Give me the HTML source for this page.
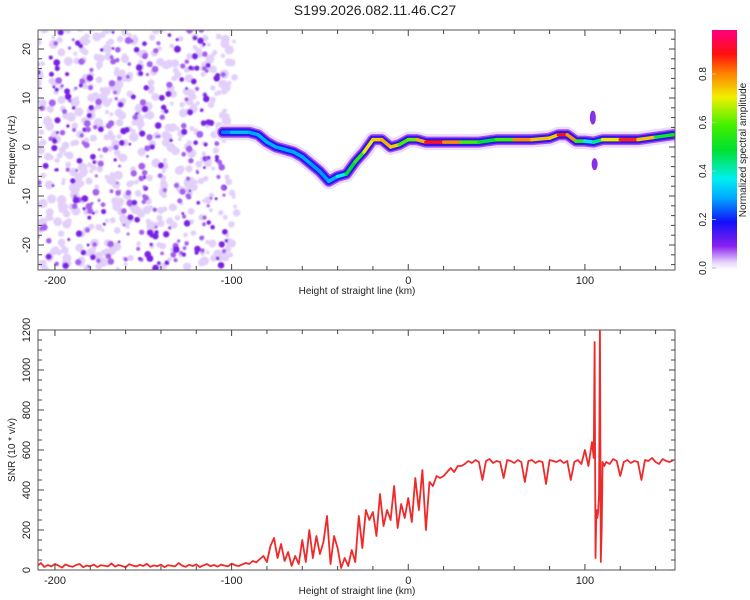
<!DOCTYPE html>
<html><head><meta charset="utf-8">
<style>
html,body{margin:0;padding:0;background:#fff;}
svg{display:block;font-family:"Liberation Sans",sans-serif;}
</style></head>
<body>
<svg id="root" width="750" height="600" viewBox="0 0 750 600">
<defs>
<linearGradient id="cmap" x1="0" y1="1" x2="0" y2="0">
<stop offset="0" stop-color="#ffffff"/>
<stop offset="0.03" stop-color="#e8d8fc"/>
<stop offset="0.1" stop-color="#8a20f0"/>
<stop offset="0.2" stop-color="#1010f8"/>
<stop offset="0.3" stop-color="#00a8ff"/>
<stop offset="0.38" stop-color="#00f0f0"/>
<stop offset="0.5" stop-color="#00e030"/>
<stop offset="0.6" stop-color="#40f000"/>
<stop offset="0.72" stop-color="#f0f000"/>
<stop offset="0.82" stop-color="#ff8000"/>
<stop offset="0.9" stop-color="#ff1010"/>
<stop offset="1" stop-color="#ff0080"/>
</linearGradient>
<clipPath id="clipTop"><rect x="38" y="30" width="637" height="240"/></clipPath>
<clipPath id="clipBot"><rect x="38" y="330" width="637" height="240"/></clipPath>
<filter id="blur1"><feGaussianBlur stdDeviation="0.8"/></filter>
</defs>
<text x="375" y="15" text-anchor="middle" font-size="14" fill="#222">S199.2026.082.11.46.C27</text>
<g id="top"></g>
<g id="bot"></g>
<g id="cbar"></g>
</svg>
<script>
// ---- data ----
const ridgeKm   = [-105,-100,-95,-90,-85,-80,-75,-70,-65,-60,-55,-50,-45,-40,-35,-30,-25,-20,-15,-10,-5,0,5,10,20,30,40,50,60,70,80,85,90,95,100,105,110,120,130,140,150];
const ridgeFreq = [3,3,3,3,2.5,1,0,-0.5,-1,-2,-3.5,-5,-7,-6,-5.5,-3,-1,1.5,1.5,0,0.5,1.5,1.5,1,1,1,1,1.5,1.5,1.5,1.8,2.5,2.5,1.2,1.2,1,1.5,1.5,1.5,2,2.5];
const ridgeAmp  = [0.25,0.3,0.35,0.3,0.3,0.32,0.3,0.3,0.3,0.3,0.3,0.28,0.3,0.32,0.45,0.55,0.6,0.85,0.65,0.9,0.6,0.6,0.65,0.9,0.92,0.7,0.5,0.5,0.7,0.92,0.6,0.9,0.9,0.7,0.45,0.3,0.6,0.85,0.92,0.6,0.45];
const xTicksKm = [-200,-100,0,100];
const freqTicks = [-20,-10,0,10,20];
const snrTicks = [0,200,400,600,800,1000,1200];
const cbarTicks = [0.0,0.2,0.4,0.6,0.8];
function range(a,b,s){const r=[];for(let v=a;v<=b+1e-9;v+=s)r.push(v);return r;}
const snrKm = [].concat(range(-210,104,2),[105,105.5,106,106.5,107,107.5,108,108.5,109,109.5,110,111],range(112,150,2));
const snrVals = [
20,35,15,25,18,30,22,12,28,20,16,25,30,14,22,19,27,15,24,21,18,33,17,25,20,14,29,22,18,26,20,31,16,23,19,27,14,24,21,18,35,22,16,26,20,28,15,23,30,19,25,17,27,22,18,32,24,20,28,35,
30,45,38,55,70,40,120,160,60,130,45,90,20,70,30,150,40,200,60,170,80,140,270,30,170,110,10,60,20,100,40,
270,110,300,250,290,170,380,220,300,250,420,210,330,260,360,240,460,300,500,200,440,420,470,460,470,490,510,490,520,
520,530,545,535,550,540,450,545,555,535,545,540,460,550,545,535,550,540,440,545,550,535,545,540,430,550,545,540,550,535,545,450,540,550,530,600,520,640,
560,1140,60,300,260,290,380,1240,40,200,540,520,
540,530,555,545,470,540,550,535,545,540,450,550,545,560,540,530,555,545,540,550];
// ---- axes ----
const X0=38,X1=675,KM0=-209.6,KM1=151;
const xs=k=>X0+(k-KM0)/(KM1-KM0)*(X1-X0);
const yF=f=>147-f*4.9;
const yS=v=>570-v*0.2;
const yC=a=>268-a*242.5;
const NS='http://www.w3.org/2000/svg';
function mk(tag,attrs,parent,txt){const e=document.createElementNS(NS,tag);for(const k in attrs)e.setAttribute(k,attrs[k]);if(txt!==undefined)e.textContent=txt;parent.appendChild(e);return e;}
function cmap(a){
 const st=[[0,[255,255,255]],[0.03,[232,216,252]],[0.1,[138,32,240]],[0.2,[16,16,248]],[0.3,[0,168,255]],[0.38,[0,240,240]],[0.5,[0,224,48]],[0.6,[64,240,0]],[0.72,[240,240,0]],[0.82,[255,128,0]],[0.9,[255,16,16]],[1,[255,0,128]]];
 for(let i=1;i<st.length;i++){if(a<=st[i][0]){const t=(a-st[i-1][0])/(st[i][0]-st[i-1][0]);const c=st[i-1][1].map((v,j)=>Math.round(v+(st[i][1][j]-v)*t));return `rgb(${c})`;}}
 return 'rgb(255,0,128)';
}
const topG=document.getElementById('top'),botG=document.getElementById('bot'),cbG=document.getElementById('cbar');
// noise texture (left side of spectrogram)
const noise=mk('g',{'clip-path':'url(#clipTop)',filter:'url(#blur1)'},topG);


let seed=12345;const rnd=()=>{seed=(seed*16807)%2147483647;return seed/2147483647;};
for(let i=0;i<520;i++){const k=-212+rnd()*114+(rnd()<0.12?rnd()*10:0);const f=-25+rnd()*50;mk('circle',{cx:xs(k),cy:yF(f),r:1.8+rnd()*3,fill:'#e2d0fa'},noise);}
for(let i=0;i<320;i++){const k=-212+rnd()*110;const f=-25+rnd()*50;mk('circle',{cx:xs(k),cy:yF(f),r:1.3+rnd()*2.2,fill:rnd()<0.55?'#a460ee':'#7a20e4'},noise);}
// ridge
const rg=mk('g',{'clip-path':'url(#clipTop)'},topG);


const pts=ridgeKm.map((k,i)=>`${xs(k)},${yF(ridgeFreq[i])}`).join(' ');
[[16,'#ecdcfc'],[11,'#a050ee'],[8,'#4a10e8'],[5.5,'#1818f8']].forEach(([w,c])=>mk('polyline',{points:pts,fill:'none',stroke:c,'stroke-width':w,'stroke-linejoin':'round','stroke-linecap':'round'},rg));
for(let i=0;i<ridgeKm.length-1;i++){
 const a=(ridgeAmp[i]+ridgeAmp[i+1])/2;
 const s=mk('line',{x1:xs(ridgeKm[i]),y1:yF(ridgeFreq[i]),x2:xs(ridgeKm[i+1]),y2:yF(ridgeFreq[i+1]),stroke:cmap(a),'stroke-width':3.5,'stroke-linecap':'round'},rg);
 
 
}
mk('ellipse',{cx:xs(104.5),cy:yF(6),rx:3,ry:7,fill:'#8a30e8'},rg);
mk('ellipse',{cx:xs(105.5),cy:yF(-3.5),rx:3,ry:6,fill:'#8a30e8'},rg);
// frames and ticks
function frame(g,yTop,yBot,yTicks,yMap,minorY,minorStep,yLab){
 mk('rect',{x:X0,y:yTop,width:X1-X0,height:yBot-yTop,fill:'none',stroke:'#555','stroke-width':1},g);
 for(let k=-200;k<=150;k+=20){const x=xs(k);const L=(k%100===0)?6:4;
  mk('line',{x1:x,y1:yBot,x2:x,y2:yBot-L,stroke:'#444'},g);mk('line',{x1:x,y1:yTop,x2:x,y2:yTop+L,stroke:'#444'},g);}
 xTicksKm.forEach(k=>{const t=mk('text',{x:xs(k),y:yBot+14,'text-anchor':'middle','font-size':11,fill:'#222'},g,String(k));});
 const xl=mk('text',{x:357,y:yBot+24,'text-anchor':'middle','font-size':10,fill:'#222'},g,'Height of straight line (km)');
 
 for(let v=minorY[0];v<=minorY[1]+1e-9;v+=minorStep){const y=yMap(v);if(y<yTop-0.5||y>yBot+0.5)continue;const L=yTicks.includes(v)?6:4;
  mk('line',{x1:X0,y1:y,x2:X0+L,y2:y,stroke:'#444'},g);mk('line',{x1:X1,y1:y,x2:X1-L,y2:y,stroke:'#444'},g);}
 yTicks.forEach(v=>{const y=yMap(v);const t=mk('text',{x:30,y:y,'text-anchor':'middle','font-size':11,fill:'#222',transform:`rotate(-90 30 ${y})`},g,String(v));});
 const yc=(yTop+yBot)/2;const yl=mk('text',{x:15,y:yc,'text-anchor':'middle','font-size':10,fill:'#222',transform:`rotate(-90 15 ${yc})`},g,yLab);
 
}
frame(topG,30,270,freqTicks,yF,[-24,24],2,'Frequency (Hz)');
const line=mk('polyline',{points:snrKm.map((k,i)=>`${xs(k)},${yS(snrVals[i])}`).join(' '),fill:'none',stroke:'#ee2a2a','stroke-width':1.8,'stroke-linejoin':'round','clip-path':'url(#clipBot)'},botG);


frame(botG,330,570,snrTicks,yS,[0,1200],50,'SNR (10 * v/v)');
const cr=mk('rect',{x:712,y:30,width:25,height:240,fill:'url(#cmap)'},cbG);

cbarTicks.forEach(v=>{const y=yC(v);mk('line',{x1:712,y1:y,x2:716,y2:y,stroke:'#bbb'},cbG);
 const t=mk('text',{x:706,y:y,'text-anchor':'middle','font-size':10,fill:'#222',transform:`rotate(-90 706 ${y})`},cbG,v.toFixed(1));});
const ct=mk('text',{x:746,y:150,'text-anchor':'middle','font-size':10,fill:'#222',transform:'rotate(-90 746 150)'},cbG,'Normalized spectral amplitude');

</script>
</body></html>
